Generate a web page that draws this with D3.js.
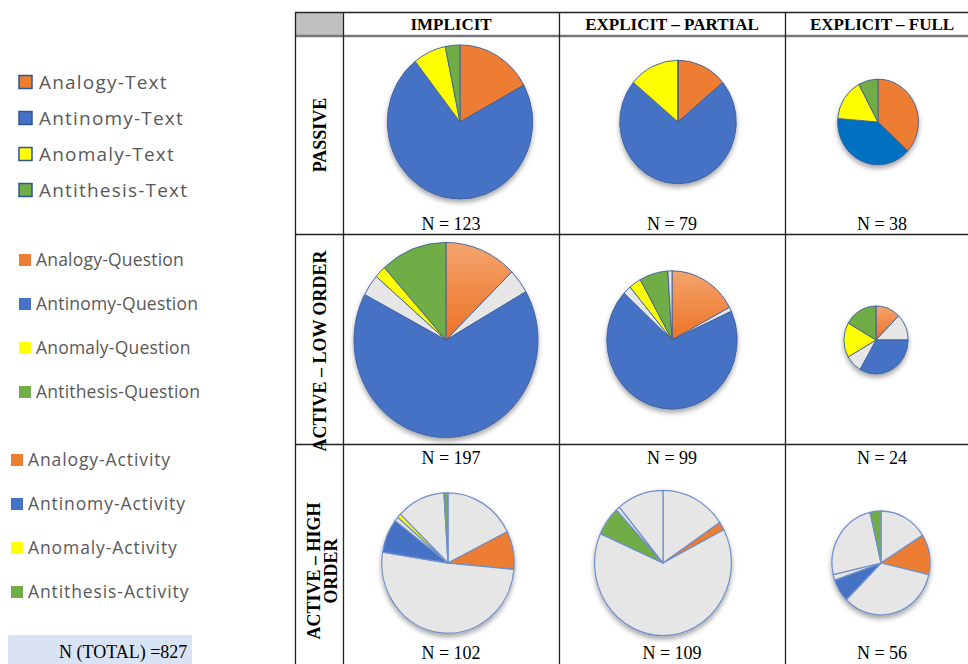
<!DOCTYPE html>
<html lang="en">
<head>
  <meta charset="UTF-8">
  <title>Pie matrix</title>
  <style>
    body, html { margin: 0; padding: 0; background: #fff; }
    #svg { display: block; }
  </style>
</head>
<body>
  <svg id="svg" width="968" height="664"></svg>
  <script src="https://d3js.org/d3.v7.min.js"></script>
  <script>
    // ---- data ----
    const columns = ["IMPLICIT", "EXPLICIT – PARTIAL", "EXPLICIT – FULL"]
    const rowLabels = [["PASSIVE"], ["ACTIVE – LOW ORDER"], ["ACTIVE – HIGH", "ORDER"]]
    const totals = [[123, 79, 38], [197, 99, 24], [102, 109, 56]]

    // slices go clockwise from 12 o'clock, [type, count]
    const passiveSlices = [
      [["Analogy", 21], ["Antinomy", 89], ["Anomaly", 9], ["Antithesis", 4]],
      [["Analogy", 11], ["Antinomy", 57], ["Anomaly", 11], ["Antithesis", 0]],
      [["Analogy", 14], ["Antinomy", 15], ["Anomaly", 6], ["Antithesis", 3]]
    ]
    const lowOrderSlices = [
      [["Analogy", 25], ["Other", 8], ["Antinomy", 130], ["Other", 7], ["Anomaly", 4], ["Antithesis", 23]],
      [["Analogy", 17], ["Other", 1], ["Antinomy", 68], ["Other", 2], ["Anomaly", 3], ["Antithesis", 7], ["Other", 1]],
      [["Analogy", 3], ["Other", 3], ["Antinomy", 8], ["Other", 2], ["Anomaly", 4], ["Antithesis", 4]]
    ]
    const highOrderSlices = [
      [["Other", 18], ["Analogy", 9], ["Other", 52], ["Antinomy", 8], ["Other", 1], ["Anomaly", 1], ["Other", 12], ["Antithesis", 1]],
      [["Other", 17], ["Analogy", 2], ["Other", 70], ["Antithesis", 7], ["Other", 1], ["Other", 12]],
      [["Other", 9], ["Analogy", 7], ["Other", 19], ["Antinomy", 4], ["Other", 1], ["Other", 14], ["Antithesis", 2]]
    ]
    const allSlices = [passiveSlices, lowOrderSlices, highOrderSlices]

    const textLegend = ["Analogy-Text", "Antinomy-Text", "Anomaly-Text", "Antithesis-Text"]
    const questionLegend = ["Analogy-Question", "Antinomy-Question", "Anomaly-Question", "Antithesis-Question"]
    const activityLegend = ["Analogy-Activity", "Antinomy-Activity", "Anomaly-Activity", "Antithesis-Activity"]
    const grandTotal = 827

    // ---- layout ----
    const colEdges = [343, 559, 785, 979]
    const rowEdges = [36, 234, 444, 664]
    const pieMid = [122, 340, 563]
    const pieNudge = [[9, 6, -4], [-5, 0, -6], [-3, -9, -1]]   // small x shifts inside cells
    const labelMid = [135, 351, 571]
    const nBaseline = [230, 464, 659]

    const color = d3.scaleOrdinal()
      .domain(["Analogy", "Antinomy", "Anomaly", "Antithesis", "Other"])
      .range(["#ED7D31", "#4472C4", "#FFFF00", "#70AD47", "#E7E6E6"])

    const radius = d3.scaleSqrt().domain([0, 197]).range([0, 92])

    const svg = d3.select("#svg")
    const defs = svg.append("defs")

    const shadow = defs.append("filter").attr("id", "shadow")
      .attr("x", "-20%").attr("y", "-20%").attr("width", "140%").attr("height", "150%")
    shadow.append("feDropShadow")
      .attr("dx", 0).attr("dy", 3).attr("stdDeviation", 2.5)
      .attr("flood-color", "#000").attr("flood-opacity", 0.35)

    const grad = defs.append("linearGradient").attr("id", "orangeGrad")
      .attr("x1", 0).attr("y1", 0).attr("x2", 0).attr("y2", 1)
    grad.append("stop").attr("offset", "0%").attr("stop-color", "#F4A46E")
    grad.append("stop").attr("offset", "100%").attr("stop-color", "#EC7224")

    // ---- table grid ----
    const grid = svg.append("g")
    grid.append("rect")
      .attr("x", 295).attr("y", 12).attr("width", colEdges[0] - 295).attr("height", rowEdges[0] - 12)
      .attr("fill", "#C0C0C0")
    grid.append("line").attr("x1", 295).attr("x2", 968).attr("y1", 12.5).attr("y2", 12.5)
      .attr("stroke", "#222").attr("stroke-width", 1.3)
    grid.append("line").attr("x1", 295).attr("x2", 968).attr("y1", rowEdges[0]).attr("y2", rowEdges[0])
      .attr("stroke", "#777").attr("stroke-width", 2.5)
    grid.selectAll("line.row")
      .data(rowEdges.slice(1, 3))
      .enter()
      .append("line")
      .attr("class", "row")
      .attr("x1", 295).attr("x2", 968)
      .attr("y1", d => d + 0.5).attr("y2", d => d + 0.5)
      .attr("stroke", "#222").attr("stroke-width", 1.3)
    grid.selectAll("line.col")
      .data([295, ...colEdges.slice(0, 3)])
      .enter()
      .append("line")
      .attr("class", "col")
      .attr("x1", d => d + 0.5).attr("x2", d => d + 0.5)
      .attr("y1", 12).attr("y2", 664)
      .attr("stroke", "#222").attr("stroke-width", 1.3)

    // headers
    svg.append("g")
      .selectAll("text")
      .data(columns)
      .enter()
      .append("text")
      .text(d => d)
      .attr("x", (d, i) => (colEdges[i] + colEdges[i + 1]) / 2)
      .attr("y", 30)
      .attr("text-anchor", "middle")
      .attr("font-family", "Liberation Serif, Times New Roman, serif")
      .attr("font-weight", "bold")
      .attr("font-size", 17)

    // row labels (rotated)
    rowLabels.forEach((lines, r) => {
      const g = svg.append("g")
        .attr("transform", `translate(${r === 2 ? 320 : 326}, ${labelMid[r]}) rotate(-90)`)
      g.selectAll("text")
        .data(lines)
        .enter()
        .append("text")
        .text(d => d)
        .attr("x", 0)
        .attr("y", (d, i) => i * 17)
        .attr("text-anchor", "middle")
        .attr("font-family", "Liberation Serif, Times New Roman, serif")
        .attr("font-weight", "bold")
        .attr("font-size", 18)
    })

    // ---- pies ----
    const pieGen = d3.pie().sort(null).value(d => d[1])

    allSlices.forEach((rowSlices, r) => {
      rowSlices.forEach((slices, c) => {
        const cx = (colEdges[c] + colEdges[c + 1]) / 2
        const R = radius(totals[r][c])
        const arcGen = d3.arc().innerRadius(0).outerRadius(R)
        const g = svg.append("g")
          .attr("transform", `translate(${cx + pieNudge[r][c]}, ${pieMid[r]}) scale(1, 1.06)`)
          .attr("filter", "url(#shadow)")
        g.selectAll("path")
          .data(pieGen(slices))
          .enter()
          .append("path")
          .attr("d", arcGen)
          .attr("fill", d => {
            if (r === 0 && c === 2 && d.data[0] === "Antinomy") return "#0070C0"
            if (r === 1 && d.data[0] === "Analogy") return "url(#orangeGrad)"
            return color(d.data[0])
          })
          .attr("stroke", r === 2 ? "#6F8FCB" : "#41609A")
          .attr("stroke-width", r === 2 ? 1.2 : 0.9)
          .attr("stroke-linejoin", "round")

        svg.append("text")
          .text(`N = ${totals[r][c]}`)
          .attr("x", cx)
          .attr("y", nBaseline[r])
          .attr("text-anchor", "middle")
          .attr("font-family", "Liberation Serif, Times New Roman, serif")
          .attr("font-size", 18)
      })
    })

    // ---- legend ----
    const legendSpecs = [
      { items: textLegend, x: 19, size: 13, y0: 82, step: 36, tx: 39, fs: 19, ls: 1.2, border: true },
      { items: questionLegend, x: 19, size: 12, y0: 260, step: 44, tx: 36, fs: 17.5, ls: 0.2, border: false },
      { items: activityLegend, x: 11, size: 12, y0: 460, step: 44, tx: 28, fs: 17.5, ls: 0.9, border: false }
    ]
    const keys = ["Analogy", "Antinomy", "Anomaly", "Antithesis"]

    legendSpecs.forEach(spec => {
      const lg = svg.append("g")
      lg.selectAll("rect")
        .data(spec.items)
        .enter()
        .append("rect")
        .attr("x", spec.x)
        .attr("y", (d, i) => spec.y0 + i * spec.step - spec.size / 2)
        .attr("width", spec.size)
        .attr("height", spec.size)
        .attr("fill", (d, i) => color(keys[i]))
        .attr("stroke", spec.border ? "#2F5597" : "none")
        .attr("stroke-width", 1.5)
      lg.selectAll("text")
        .data(spec.items)
        .enter()
        .append("text")
        .text(d => d)
        .attr("x", spec.tx)
        .attr("y", (d, i) => spec.y0 + i * spec.step)
        .attr("dy", "0.35em")
        .attr("font-family", "Open Sans, Noto Sans, sans-serif")
        .attr("font-size", spec.fs)
        .attr("letter-spacing", spec.ls)
        .attr("fill", "#595959")
    })

    svg.append("rect")
      .attr("x", 8).attr("y", 635).attr("width", 184).attr("height", 35)
      .attr("fill", "#DAE3F3")
    svg.append("text")
      .text(`N (TOTAL) =${grandTotal}`)
      .attr("x", 59).attr("y", 658)
      .attr("font-family", "Liberation Serif, Times New Roman, serif")
      .attr("font-size", 18)
  </script>
</body>
</html>
